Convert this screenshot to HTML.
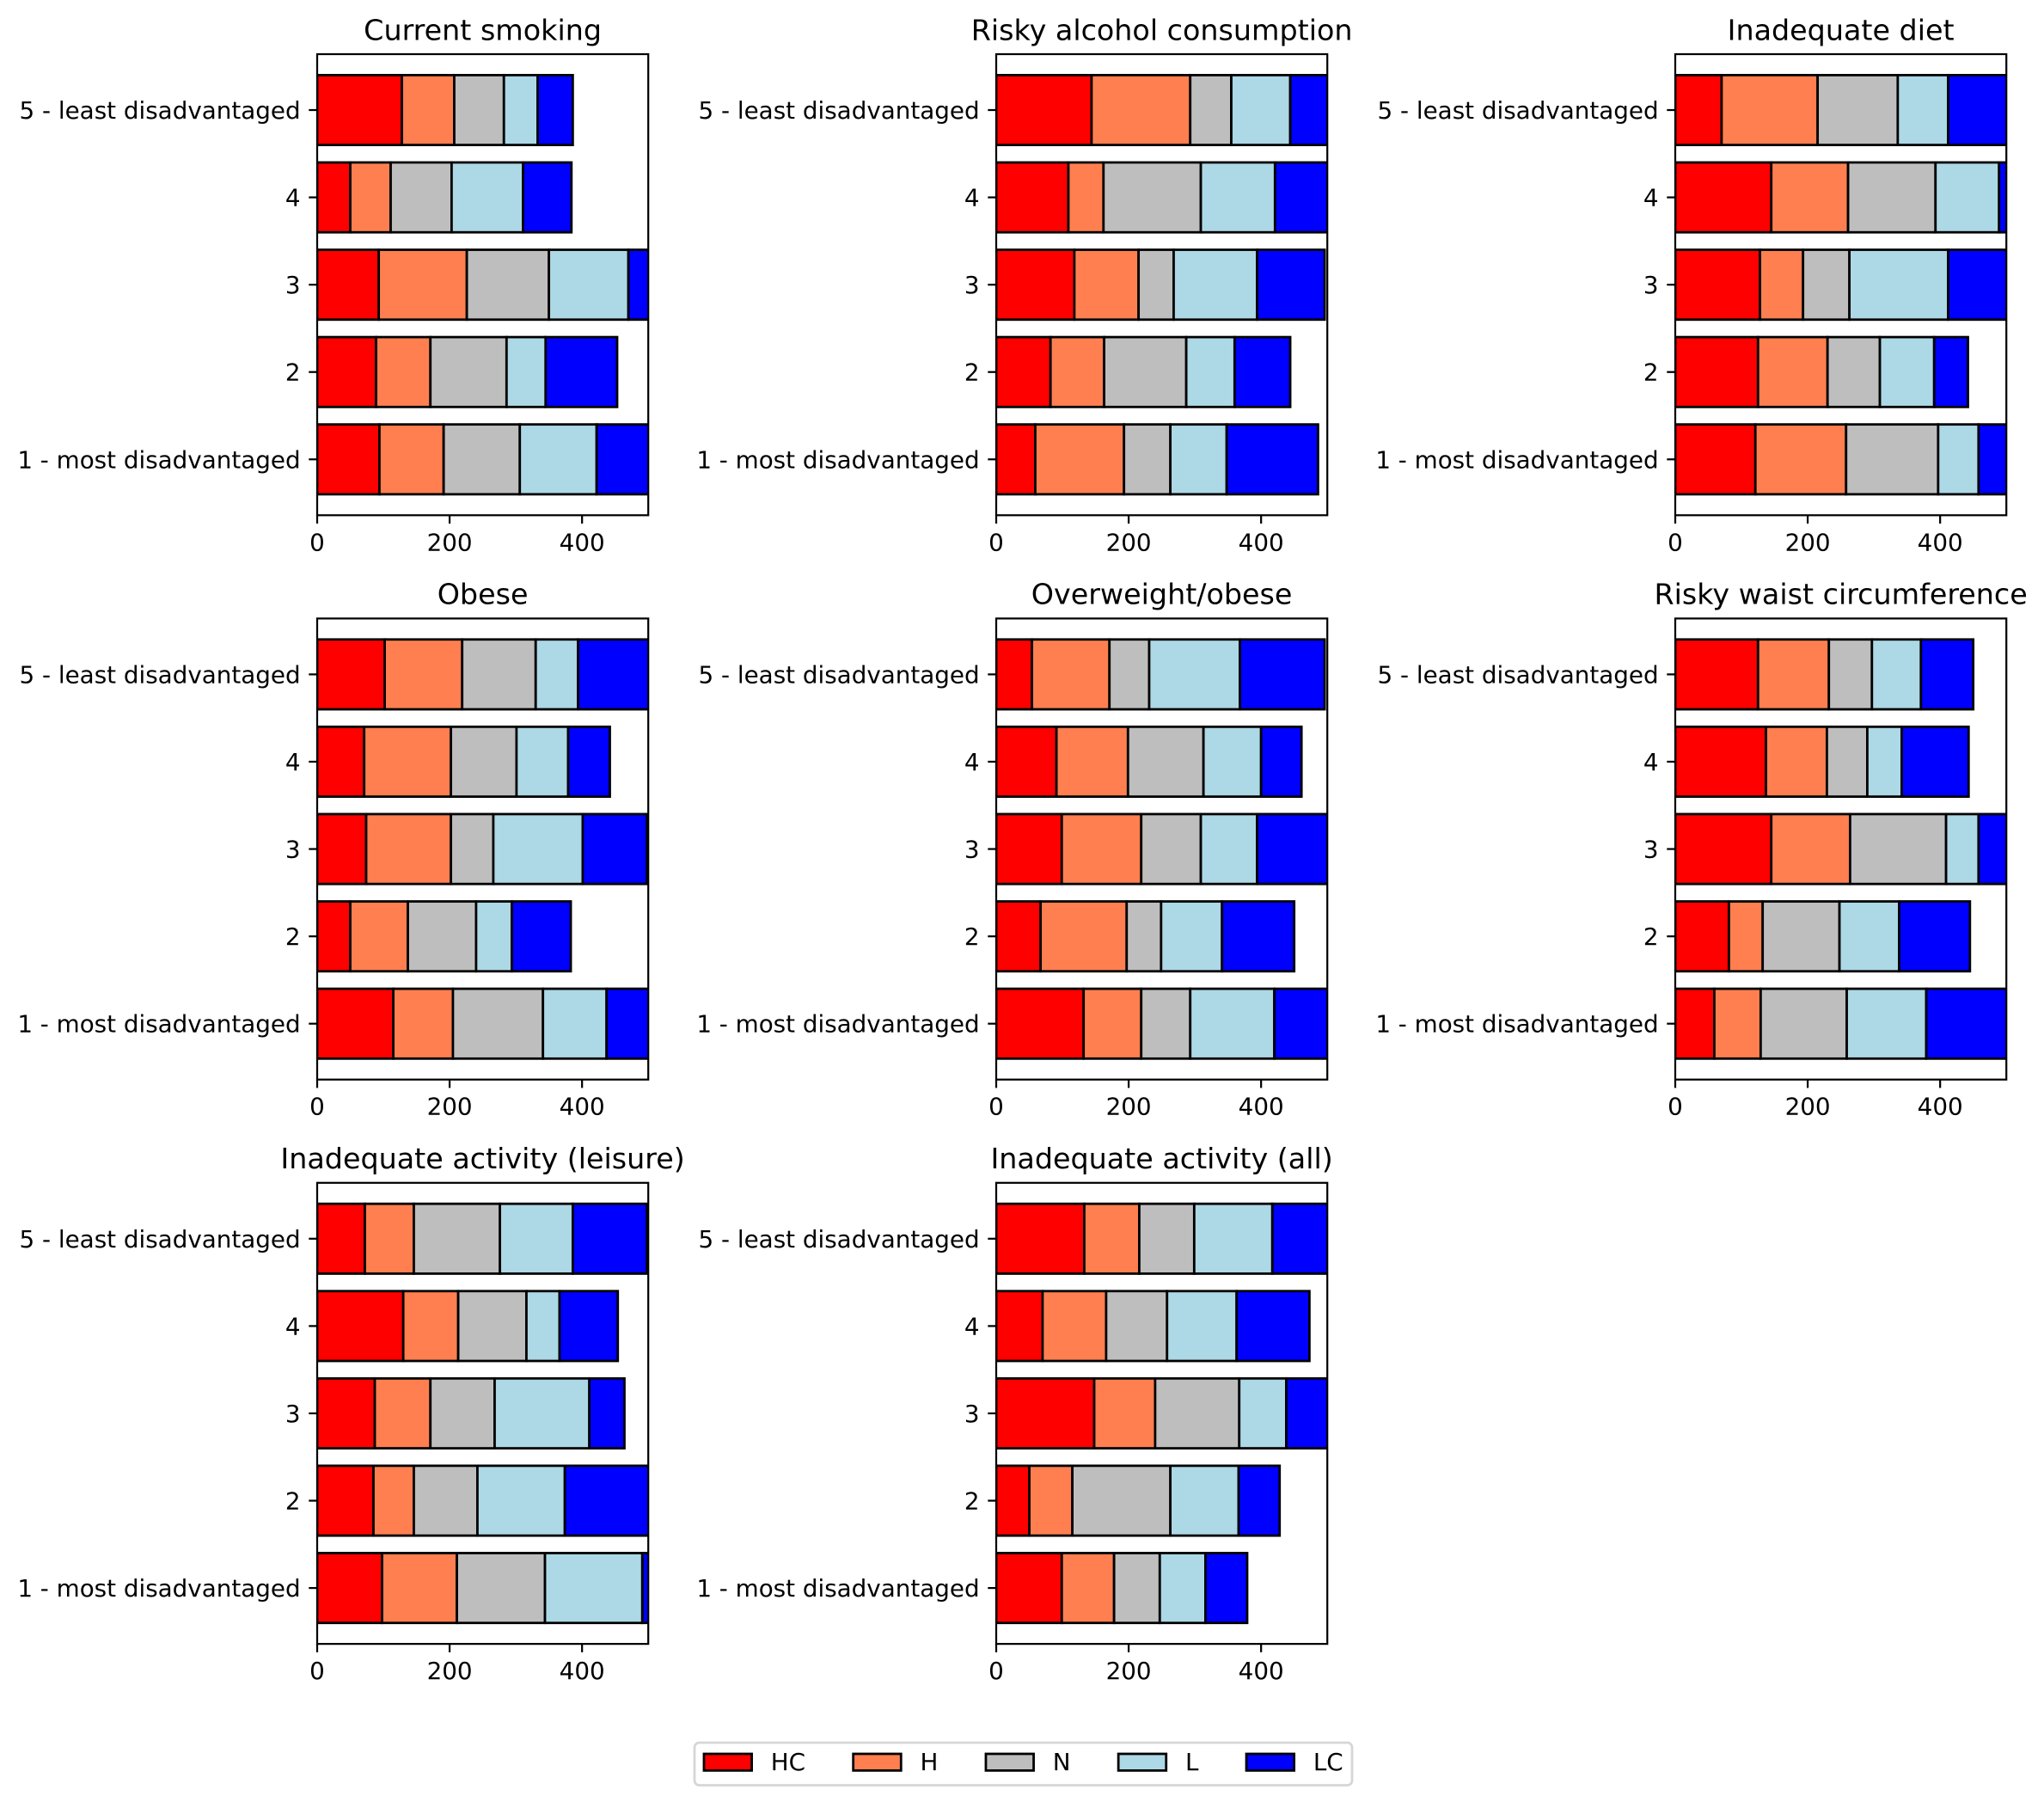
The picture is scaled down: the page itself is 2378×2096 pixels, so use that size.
<!DOCTYPE html>
<html lang="en">
<head>
<meta charset="utf-8">
<title>Risk factors by disadvantage group</title>
<style>
html,body{margin:0;padding:0;background:#fff;}
svg{display:block;font-family:"DejaVu Sans","Liberation Sans",sans-serif;}
</style>
</head>
<body>
<svg id="chart" xmlns="http://www.w3.org/2000/svg" width="2378" height="2096" viewBox="0 0 2378 2096"></svg>
<script>
const categories = ["1 - most disadvantaged", "2", "3", "4", "5 - least disadvantaged"];
const xTicks = [0, 200, 400];
const seriesNames = ["HC", "H", "N", "L", "LC"];
const seriesColors = ["#ff0000", "#ff7f50", "#bebebe", "#add8e6", "#0000ff"];

const smokingHC = [94, 89, 93, 50, 128];
const smokingH = [97, 82, 133, 61, 79];
const smokingN = [115, 115, 124, 92, 75];
const smokingL = [116, 59, 120, 108, 51];
const smokingLC = [110, 108, 60, 73, 53];

const alcoholHC = [59, 82, 118, 109, 144];
const alcoholH = [134, 81, 97, 53, 149];
const alcoholN = [70, 124, 53, 147, 62];
const alcoholL = [85, 73, 126, 112, 89];
const alcoholLC = [138, 84, 102, 85, 60];

const dietHC = [121, 125, 128, 145, 70];
const dietH = [137, 105, 65, 116, 145];
const dietN = [139, 79, 70, 132, 121];
const dietL = [61, 82, 149, 96, 76];
const dietLC = [50, 51, 95, 20, 95];

const obeseHC = [115, 50, 74, 71, 102];
const obeseH = [90, 87, 128, 131, 117];
const obeseN = [136, 103, 64, 99, 111];
const obeseL = [96, 54, 135, 78, 64];
const obeseLC = [70, 89, 97, 63, 110];

const overweightHC = [132, 67, 99, 91, 54];
const overweightH = [87, 130, 120, 108, 117];
const overweightN = [74, 52, 90, 114, 60];
const overweightL = [127, 92, 85, 87, 137];
const overweightLC = [90, 109, 115, 61, 128];

const waistHC = [59, 81, 145, 137, 125];
const waistH = [70, 51, 119, 92, 107];
const waistN = [130, 116, 145, 61, 65];
const waistL = [120, 90, 49, 52, 74];
const waistLC = [130, 107, 55, 101, 79];

const leisureHC = [98, 85, 87, 130, 72];
const leisureH = [113, 61, 84, 83, 74];
const leisureN = [133, 96, 97, 103, 130];
const leisureL = [147, 132, 143, 50, 110];
const leisureLC = [25, 130, 53, 88, 112];

const activityHC = [99, 50, 148, 70, 133];
const activityH = [79, 65, 92, 96, 83];
const activityN = [69, 148, 127, 92, 83];
const activityL = [69, 103, 71, 105, 118];
const activityLC = [63, 62, 80, 110, 100];

const panelTitles = [
  "Current smoking", "Risky alcohol consumption", "Inadequate diet",
  "Obese", "Overweight/obese", "Risky waist circumference",
  "Inadequate activity (leisure)", "Inadequate activity (all)"
];
const panelSeries = [
  [smokingHC, smokingH, smokingN, smokingL, smokingLC],
  [alcoholHC, alcoholH, alcoholN, alcoholL, alcoholLC],
  [dietHC, dietH, dietN, dietL, dietLC],
  [obeseHC, obeseH, obeseN, obeseL, obeseLC],
  [overweightHC, overweightH, overweightN, overweightL, overweightLC],
  [waistHC, waistH, waistN, waistL, waistLC],
  [leisureHC, leisureH, leisureN, leisureL, leisureLC],
  [activityHC, activityH, activityN, activityL, activityLC]
];

const NS = "http://www.w3.org/2000/svg";
const svg = document.getElementById("chart");
const AXIS_W = 385.2, AXIS_H = 536.3, X_MAX = 500, Y_MIN = -0.64, Y_MAX = 4.64;
const COL_LEFT = 369, COL_STEP = 790, ROW_TOP = 63, ROW_STEP = 656.4;
const EDGE = 2.78, SPINE = 2.22, TICK = 9.72, FONT = 27.78, TITLE_FONT = 33.33;

function make(tag, attrs, parent) {
  const el = document.createElementNS(NS, tag);
  for (const k in attrs) el.setAttribute(k, attrs[k]);
  parent.appendChild(el);
  return el;
}
function slug(s) {
  return s.toLowerCase().replace(/[^a-z0-9]+/g, "-").replace(/^-|-$/g, "");
}

const defs = make("defs", {}, svg);

panelTitles.forEach(function (title, p) {
  const left = COL_LEFT + (p % 3) * COL_STEP;
  const top = ROW_TOP + Math.floor(p / 3) * ROW_STEP;
  const xScale = function (v) { return left + v * AXIS_W / X_MAX; };
  const yScale = function (v) { return top + (Y_MAX - v) * AXIS_H / (Y_MAX - Y_MIN); };
  const slugTitle = slug(title);

  const g = make("g", {}, svg);
  
  

  const clip = make("clipPath", { id: "clip-" + p }, defs);
  make("rect", { x: left, y: top, width: AXIS_W, height: AXIS_H }, clip);

  const bg = make("rect", { x: left, y: top, width: AXIS_W, height: AXIS_H, fill: "#fff" }, g);
  
  

  const barsGroup = make("g", { "clip-path": "url(#clip-" + p + ")" }, g);
  
  

  const running = categories.map(function () { return 0; });
  panelSeries[p].forEach(function (values, s) {
    values.forEach(function (v, c) {
      const x0 = xScale(running[c]);
      const x1 = xScale(running[c] + v);
      const y0 = yScale(c + 0.4);
      const y1 = yScale(c - 0.4);
      const bar = make("rect", {
        x: x0, y: y0, width: x1 - x0, height: y1 - y0,
        fill: seriesColors[s], stroke: "#000", "stroke-width": EDGE
      }, barsGroup);
      
      
      running[c] += v;
    });
  });

  const spines = make("rect", {
    x: left, y: top, width: AXIS_W, height: AXIS_H,
    fill: "none", stroke: "#000", "stroke-width": SPINE
  }, g);
  
  

  xTicks.forEach(function (t) {
    const x = xScale(t);
    const tick = make("line", {
      x1: x, x2: x, y1: top + AXIS_H, y2: top + AXIS_H + TICK,
      stroke: "#000", "stroke-width": SPINE
    }, g);
    
    
    const lab = make("text", {
      x: x, y: top + AXIS_H + 41, "text-anchor": "middle",
      "font-size": FONT, fill: "#000"
    }, g);
    lab.textContent = String(t);
    
    
  });

  categories.forEach(function (name, c) {
    const y = yScale(c);
    const tick = make("line", {
      x1: left - TICK, x2: left, y1: y, y2: y,
      stroke: "#000", "stroke-width": SPINE
    }, g);
    
    
    const lab = make("text", {
      x: left - 19.4, y: y + 10, "text-anchor": "end",
      "font-size": FONT, fill: "#000"
    }, g);
    lab.textContent = name;
    
    
  });

  const titleEl = make("text", {
    x: left + AXIS_W / 2, y: top - 16.7, "text-anchor": "middle",
    "font-size": TITLE_FONT, fill: "#000"
  }, g);
  titleEl.textContent = title;
  
  
});

const legend = make("g", {}, svg);



const legendFrame = make("rect", {
  x: 808, y: 2027, width: 765, height: 49.5, rx: 5.5, ry: 5.5,
  fill: "#fff", stroke: "#d6d6d6", "stroke-width": EDGE
}, legend);



let legendX = 819;
seriesNames.forEach(function (name, s) {
  const swatch = make("rect", {
    x: legendX, y: 2040, width: 55.6, height: 19.4,
    fill: seriesColors[s], stroke: "#000", "stroke-width": EDGE
  }, legend);
  
  
  const lab = make("text", {
    x: legendX + 55.6 + 22.2, y: 2059, "font-size": FONT, fill: "#000"
  }, legend);
  lab.textContent = name;
  
  
  legendX += 55.6 + 22.2 + lab.getComputedTextLength() + 55.6;
});
</script>
</body>
</html>
